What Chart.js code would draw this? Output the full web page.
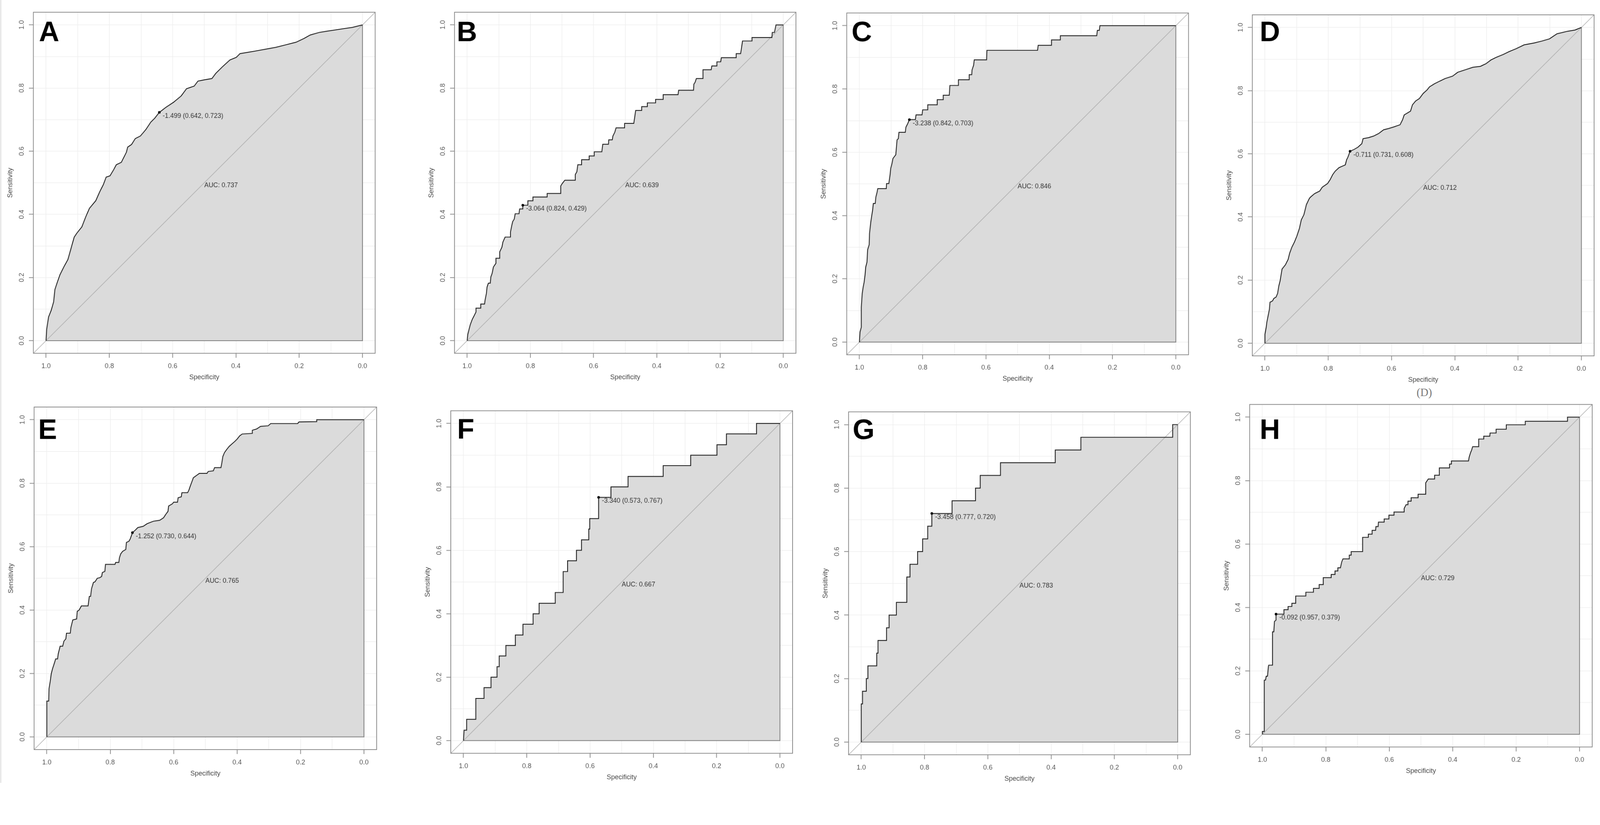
<!DOCTYPE html>
<html>
<head>
<meta charset="utf-8">
<script src="https://cdn.jsdelivr.net/npm/chart.js@4.4.1/dist/chart.umd.min.js"></script>
<style>
html, body { margin: 0; padding: 0; background: #fff; overflow: hidden; width: 100%; height: 100%; }
#stage { position: absolute; left: 0; top: 0; width: 4316px; height: 2112px; overflow: hidden; transform-origin: 0 0; background: #fff; }
.panel { position: absolute; }
.edge { position: absolute; left: 0; top: 0; width: 4px; height: 2112px; background: #e9e9e9; }
.caption { position: absolute; left: 3842px; top: 1058px; transform: translate(-50%, -50%);
  font: 30px 'Liberation Serif', 'Times New Roman', serif; color: #777; }
</style>
</head>
<body>
<div id="stage">
  <div class="edge"></div>
  <div class="caption">(D)</div>
</div>
<script>
// ROC curves as [specificity, sensitivity] points
const rocA = [[1.000,0.000],[0.998,0.036],[0.992,0.075],[0.984,0.095],[0.976,0.123],[0.972,0.162],[0.964,0.186],[0.956,0.209],[0.944,0.233],[0.931,0.257],[0.923,0.285],[0.911,0.328],[0.903,0.340],[0.887,0.360],[0.875,0.391],[0.863,0.419],[0.843,0.443],[0.831,0.470],[0.819,0.494],[0.810,0.518],[0.798,0.522],[0.786,0.542],[0.778,0.557],[0.762,0.565],[0.746,0.597],[0.742,0.613],[0.730,0.621],[0.718,0.640],[0.702,0.648],[0.685,0.668],[0.669,0.692],[0.657,0.704],[0.642,0.723],[0.621,0.739],[0.597,0.755],[0.573,0.775],[0.556,0.798],[0.532,0.806],[0.520,0.822],[0.500,0.826],[0.476,0.830],[0.464,0.846],[0.444,0.866],[0.419,0.889],[0.399,0.897],[0.387,0.909],[0.363,0.913],[0.339,0.917],[0.306,0.923],[0.274,0.929],[0.242,0.937],[0.210,0.945],[0.185,0.957],[0.165,0.968],[0.137,0.976],[0.113,0.980],[0.073,0.986],[0.032,0.992],[0.000,1.000]];

const rocB = [[1.000,0.000],[0.998,0.020],[0.994,0.036],[0.990,0.051],[0.984,0.067],[0.977,0.081],[0.972,0.091],[0.972,0.103],[0.957,0.103],[0.957,0.116],[0.945,0.116],[0.943,0.130],[0.939,0.150],[0.937,0.170],[0.933,0.182],[0.927,0.182],[0.925,0.202],[0.921,0.213],[0.917,0.233],[0.909,0.245],[0.909,0.261],[0.898,0.261],[0.897,0.281],[0.890,0.296],[0.887,0.312],[0.880,0.328],[0.864,0.328],[0.863,0.344],[0.859,0.364],[0.856,0.377],[0.851,0.385],[0.848,0.402],[0.836,0.402],[0.834,0.417],[0.824,0.417],[0.824,0.429],[0.808,0.429],[0.808,0.443],[0.792,0.443],[0.792,0.455],[0.747,0.455],[0.747,0.466],[0.704,0.466],[0.704,0.490],[0.699,0.498],[0.691,0.508],[0.658,0.508],[0.658,0.526],[0.653,0.535],[0.650,0.557],[0.638,0.557],[0.638,0.573],[0.614,0.573],[0.614,0.585],[0.598,0.585],[0.598,0.598],[0.574,0.598],[0.571,0.622],[0.553,0.622],[0.552,0.636],[0.541,0.636],[0.539,0.648],[0.533,0.660],[0.529,0.674],[0.502,0.674],[0.502,0.688],[0.473,0.688],[0.470,0.708],[0.467,0.729],[0.448,0.729],[0.448,0.741],[0.430,0.741],[0.430,0.753],[0.404,0.753],[0.404,0.764],[0.380,0.764],[0.380,0.779],[0.333,0.779],[0.331,0.793],[0.284,0.793],[0.283,0.812],[0.279,0.818],[0.275,0.830],[0.254,0.830],[0.254,0.858],[0.228,0.858],[0.226,0.870],[0.210,0.870],[0.210,0.883],[0.198,0.883],[0.196,0.896],[0.149,0.896],[0.149,0.909],[0.135,0.909],[0.133,0.921],[0.129,0.949],[0.099,0.949],[0.099,0.960],[0.036,0.960],[0.035,0.976],[0.028,0.976],[0.023,1.000],[0.000,1.000]];

const rocC = [[1.000,0.000],[0.998,0.032],[0.994,0.047],[0.994,0.110],[0.991,0.154],[0.988,0.174],[0.985,0.189],[0.982,0.213],[0.980,0.237],[0.976,0.253],[0.974,0.292],[0.969,0.308],[0.968,0.343],[0.964,0.379],[0.961,0.399],[0.958,0.418],[0.956,0.438],[0.950,0.438],[0.948,0.458],[0.944,0.474],[0.942,0.485],[0.915,0.485],[0.914,0.501],[0.907,0.501],[0.903,0.529],[0.901,0.549],[0.897,0.564],[0.894,0.580],[0.885,0.592],[0.883,0.616],[0.881,0.639],[0.877,0.643],[0.875,0.663],[0.855,0.663],[0.853,0.679],[0.847,0.691],[0.842,0.703],[0.823,0.703],[0.821,0.718],[0.802,0.718],[0.800,0.734],[0.784,0.734],[0.784,0.750],[0.754,0.750],[0.754,0.766],[0.735,0.766],[0.735,0.780],[0.716,0.780],[0.714,0.811],[0.687,0.811],[0.687,0.829],[0.653,0.829],[0.653,0.845],[0.645,0.845],[0.644,0.860],[0.639,0.875],[0.637,0.892],[0.598,0.892],[0.597,0.922],[0.437,0.922],[0.435,0.938],[0.393,0.938],[0.393,0.955],[0.365,0.955],[0.365,0.968],[0.250,0.968],[0.248,0.985],[0.242,0.985],[0.240,1.000],[0.000,1.000]];

const rocD = [[1.000,0.000],[1.000,0.028],[0.996,0.051],[0.994,0.067],[0.990,0.087],[0.986,0.107],[0.984,0.130],[0.976,0.134],[0.972,0.142],[0.965,0.146],[0.960,0.158],[0.956,0.182],[0.952,0.198],[0.949,0.217],[0.946,0.235],[0.935,0.249],[0.927,0.265],[0.922,0.285],[0.915,0.304],[0.907,0.320],[0.899,0.340],[0.891,0.364],[0.885,0.391],[0.877,0.407],[0.869,0.439],[0.860,0.458],[0.857,0.462],[0.843,0.474],[0.827,0.482],[0.819,0.494],[0.802,0.506],[0.794,0.518],[0.786,0.534],[0.778,0.545],[0.766,0.556],[0.746,0.565],[0.742,0.581],[0.738,0.589],[0.731,0.608],[0.718,0.614],[0.706,0.621],[0.694,0.632],[0.690,0.648],[0.673,0.651],[0.657,0.656],[0.641,0.664],[0.625,0.676],[0.609,0.680],[0.593,0.685],[0.573,0.692],[0.565,0.708],[0.560,0.723],[0.540,0.735],[0.534,0.755],[0.524,0.767],[0.512,0.775],[0.500,0.791],[0.488,0.802],[0.480,0.812],[0.464,0.822],[0.448,0.830],[0.431,0.838],[0.407,0.846],[0.391,0.858],[0.367,0.866],[0.343,0.874],[0.319,0.877],[0.302,0.885],[0.286,0.897],[0.270,0.905],[0.246,0.915],[0.230,0.923],[0.206,0.933],[0.181,0.945],[0.149,0.951],[0.125,0.957],[0.101,0.964],[0.077,0.980],[0.044,0.988],[0.020,0.992],[0.000,1.000]];

const rocE = [[1.000,0.000],[1.000,0.113],[0.994,0.113],[0.993,0.152],[0.989,0.176],[0.986,0.199],[0.982,0.215],[0.978,0.227],[0.972,0.246],[0.966,0.246],[0.964,0.262],[0.958,0.286],[0.950,0.286],[0.946,0.302],[0.940,0.309],[0.938,0.327],[0.926,0.327],[0.924,0.345],[0.918,0.369],[0.906,0.372],[0.904,0.396],[0.898,0.400],[0.891,0.413],[0.870,0.413],[0.866,0.443],[0.862,0.443],[0.859,0.467],[0.853,0.487],[0.848,0.489],[0.841,0.500],[0.833,0.502],[0.827,0.506],[0.825,0.518],[0.817,0.522],[0.815,0.544],[0.785,0.544],[0.783,0.550],[0.773,0.550],[0.771,0.565],[0.767,0.577],[0.761,0.585],[0.751,0.591],[0.749,0.613],[0.741,0.617],[0.737,0.624],[0.730,0.644],[0.721,0.652],[0.713,0.660],[0.696,0.664],[0.684,0.672],[0.664,0.680],[0.644,0.683],[0.632,0.691],[0.624,0.703],[0.618,0.711],[0.616,0.728],[0.604,0.735],[0.600,0.740],[0.588,0.740],[0.586,0.754],[0.576,0.757],[0.574,0.770],[0.556,0.770],[0.552,0.778],[0.548,0.790],[0.542,0.806],[0.538,0.817],[0.527,0.825],[0.519,0.831],[0.495,0.831],[0.491,0.837],[0.475,0.839],[0.471,0.849],[0.451,0.849],[0.448,0.865],[0.445,0.884],[0.440,0.896],[0.433,0.906],[0.425,0.916],[0.416,0.924],[0.408,0.931],[0.400,0.939],[0.392,0.949],[0.384,0.955],[0.352,0.957],[0.352,0.967],[0.338,0.971],[0.326,0.979],[0.302,0.981],[0.294,0.988],[0.209,0.988],[0.205,0.993],[0.149,0.994],[0.149,1.000],[0.000,1.000]];

const rocF = [[1.000,0.000],[0.998,0.033],[0.990,0.033],[0.990,0.067],[0.961,0.067],[0.961,0.133],[0.935,0.133],[0.935,0.167],[0.913,0.167],[0.913,0.200],[0.894,0.200],[0.894,0.233],[0.887,0.233],[0.887,0.267],[0.866,0.267],[0.866,0.300],[0.836,0.300],[0.836,0.333],[0.812,0.333],[0.812,0.367],[0.780,0.367],[0.780,0.400],[0.761,0.400],[0.761,0.433],[0.710,0.433],[0.710,0.467],[0.685,0.467],[0.685,0.533],[0.671,0.533],[0.671,0.567],[0.643,0.567],[0.643,0.600],[0.627,0.600],[0.627,0.633],[0.604,0.633],[0.604,0.667],[0.601,0.667],[0.601,0.700],[0.573,0.700],[0.573,0.767],[0.534,0.767],[0.534,0.800],[0.480,0.800],[0.480,0.833],[0.369,0.833],[0.369,0.867],[0.282,0.867],[0.282,0.900],[0.199,0.900],[0.199,0.933],[0.169,0.933],[0.169,0.967],[0.074,0.967],[0.074,1.000],[0.000,1.000]];

const rocG = [[1.000,0.000],[1.000,0.120],[0.996,0.120],[0.996,0.160],[0.984,0.160],[0.984,0.200],[0.979,0.200],[0.979,0.240],[0.951,0.240],[0.951,0.280],[0.947,0.280],[0.947,0.320],[0.920,0.320],[0.920,0.360],[0.912,0.360],[0.912,0.400],[0.889,0.400],[0.889,0.440],[0.856,0.440],[0.856,0.520],[0.846,0.520],[0.846,0.560],[0.822,0.560],[0.822,0.600],[0.806,0.600],[0.806,0.640],[0.790,0.640],[0.790,0.680],[0.777,0.680],[0.777,0.720],[0.713,0.720],[0.713,0.760],[0.639,0.760],[0.639,0.800],[0.624,0.800],[0.624,0.840],[0.560,0.840],[0.560,0.880],[0.387,0.880],[0.387,0.920],[0.306,0.920],[0.306,0.960],[0.016,0.960],[0.016,1.000],[0.000,1.000]];

const rocH = [[1.000,0.000],[1.000,0.009],[0.994,0.009],[0.994,0.171],[0.990,0.171],[0.988,0.183],[0.984,0.183],[0.981,0.214],[0.980,0.218],[0.968,0.218],[0.968,0.323],[0.964,0.323],[0.962,0.356],[0.957,0.360],[0.957,0.379],[0.932,0.379],[0.932,0.393],[0.919,0.393],[0.919,0.403],[0.907,0.403],[0.907,0.413],[0.895,0.413],[0.895,0.436],[0.863,0.436],[0.863,0.448],[0.839,0.448],[0.839,0.460],[0.821,0.460],[0.821,0.472],[0.808,0.472],[0.808,0.494],[0.783,0.494],[0.783,0.504],[0.771,0.504],[0.771,0.515],[0.762,0.515],[0.762,0.525],[0.754,0.525],[0.750,0.543],[0.746,0.553],[0.726,0.553],[0.726,0.565],[0.720,0.565],[0.720,0.576],[0.684,0.576],[0.684,0.621],[0.666,0.621],[0.666,0.631],[0.654,0.631],[0.654,0.643],[0.643,0.643],[0.642,0.655],[0.635,0.655],[0.634,0.669],[0.616,0.669],[0.616,0.679],[0.601,0.679],[0.601,0.691],[0.585,0.691],[0.585,0.701],[0.553,0.701],[0.553,0.712],[0.547,0.724],[0.541,0.724],[0.541,0.735],[0.531,0.735],[0.531,0.746],[0.509,0.746],[0.509,0.757],[0.485,0.757],[0.485,0.793],[0.477,0.805],[0.457,0.805],[0.457,0.817],[0.442,0.817],[0.442,0.840],[0.410,0.840],[0.410,0.852],[0.404,0.852],[0.404,0.862],[0.350,0.862],[0.348,0.874],[0.344,0.887],[0.340,0.897],[0.337,0.907],[0.318,0.907],[0.318,0.931],[0.302,0.931],[0.302,0.940],[0.283,0.940],[0.282,0.950],[0.263,0.950],[0.263,0.962],[0.231,0.962],[0.231,0.976],[0.171,0.976],[0.171,0.987],[0.038,0.987],[0.038,1.000],[0.000,1.000]];

// best threshold: [threshold, specificity, sensitivity]
const thrA = [-1.499, 0.642, 0.723];
const thrB = [-3.064, 0.824, 0.429];
const thrC = [-3.238, 0.842, 0.703];
const thrD = [-0.711, 0.731, 0.608];
const thrE = [-1.252, 0.730, 0.644];
const thrF = [-3.340, 0.573, 0.767];
const thrG = [-3.458, 0.777, 0.720];
const thrH = [-0.092, 0.957, 0.379];

const aucValues = [0.737, 0.639, 0.846, 0.712, 0.765, 0.667, 0.783, 0.729];
const panelLetters = ['A', 'B', 'C', 'D', 'E', 'F', 'G', 'H'];
const axisTicks = [0, 0.1, 0.2, 0.3, 0.4, 0.5, 0.6, 0.7, 0.8, 0.9, 1.0];

// plot boxes on the 4316x2112 stage: left, top, width, height; letter offset inside box
const boxes = [
  [90, 33, 922, 920], [1226, 33, 921, 920], [2284, 35, 922, 922], [3378, 40, 922, 920],
  [92, 1098, 924, 924], [1216, 1108, 922, 924], [2289, 1111, 922, 925], [3371, 1091, 924, 924]
];
const letterOffsets = [[15, 78], [6, 78], [13, 76], [20, 71], [11, 86], [17, 75], [11, 73], [27, 93]];

const rocs = [rocA, rocB, rocC, rocD, rocE, rocF, rocG, rocH];
const thrs = [thrA, thrB, thrC, thrD, thrE, thrF, thrG, thrH];

const Y_W = 76;   // y axis width
const X_H = 80;   // x axis height
const PAD = 30;

// fit the fixed-size stage into whatever the window really is
const stage = document.getElementById('stage');
const fit = Math.min(window.innerWidth / 4316, window.innerHeight / 2112);
if (Math.abs(fit - 1) > 0.002) stage.style.transform = 'scale(' + fit + ')';

Chart.defaults.font.family = "'Liberation Sans', Arial, sans-serif";

const isMajor = v => Math.round(v * 10) % 2 === 0;

const panelDecor = {
  id: 'panelDecor',
  afterDatasetsDraw(chart, args, o) {
    const { ctx, chartArea: a, scales: { x, y } } = chart;
    ctx.save();
    ctx.strokeStyle = '#8a8a8a';
    ctx.lineWidth = 2;
    ctx.strokeRect(a.left, a.top, a.right - a.left, a.bottom - a.top);

    ctx.fillStyle = '#333';
    ctx.font = "17.5px 'Liberation Sans', Arial, sans-serif";
    ctx.textAlign = 'left';
    ctx.textBaseline = 'middle';
    const t = o.thr;
    const label = t[0].toFixed(3) + ' (' + t[1].toFixed(3) + ', ' + t[2].toFixed(3) + ')';
    ctx.fillText(label, x.getPixelForValue(t[1]) + 9, y.getPixelForValue(t[2]) + 10);
    ctx.fillText('AUC: ' + o.auc.toFixed(3), x.getPixelForValue(0.5), y.getPixelForValue(0.5) + 7);

    ctx.fillStyle = '#000';
    ctx.font = "bold 76px 'Liberation Sans', Arial, sans-serif";
    ctx.textBaseline = 'alphabetic';
    ctx.fillText(o.letter, a.left + o.letterPos[0], a.top + o.letterPos[1]);
    ctx.restore();
  }
};

function axisOptions(isX) {
  return {
    type: 'linear',
    min: -0.04,
    max: 1.04,
    reverse: isX,
    afterBuildTicks: s => { s.ticks = axisTicks.map(v => ({ value: v })); },
    afterFit: s => { if (isX) s.height = X_H; else s.width = Y_W; },
    ticks: {
      autoSkip: false,
      font: { size: 18 },
      color: '#555',
      padding: isX ? 12 : 6.5,
      minRotation: isX ? 0 : 90,
      maxRotation: isX ? 0 : 90,
      crossAlign: isX ? 'near' : 'center',
      callback: v => (isMajor(v) ? v.toFixed(1) : '')
    },
    grid: {
      color: '#eeeeee',
      lineWidth: 1.5,
      tickLength: 12,
      tickWidth: 2,
      tickColor: c => (c.tick && isMajor(c.tick.value) ? '#8a8a8a' : 'rgba(0,0,0,0)')
    },
    border: { display: false },
    title: {
      display: true,
      text: isX ? 'Specificity' : 'Sensitivity',
      font: { size: 18 },
      color: '#444',
      padding: isX ? { top: 0, bottom: 4.2 } : { top: 3.2, bottom: 0 }
    }
  };
}

function drawPanel(i) {
  const b = boxes[i];
  const wrap = document.createElement('div');
  wrap.className = 'panel';
  wrap.style.left = (b[0] - Y_W) + 'px';
  wrap.style.top = (b[1] - PAD) + 'px';
  wrap.style.width = (b[2] + Y_W + PAD) + 'px';
  wrap.style.height = (b[3] + X_H + PAD) + 'px';
  const canvas = document.createElement('canvas');
  wrap.appendChild(canvas);
  stage.appendChild(wrap);

  const thr = thrs[i];
  new Chart(canvas, {
    type: 'line',
    data: {
      datasets: [
        {
          data: [{ x: thr[1], y: thr[2] }],
          showLine: false,
          pointRadius: 3.5,
          pointBackgroundColor: '#000',
          pointBorderWidth: 0,
          order: 0
        },
        {
          data: rocs[i].map(p => ({ x: p[0], y: p[1] })),
          borderColor: '#1a1a1a',
          borderWidth: 2.2,
          backgroundColor: '#dbdbdb',
          fill: 'origin',
          pointRadius: 0,
          tension: 0,
          order: 1
        },
        {
          data: [{ x: 1, y: 0 }, { x: 0, y: 0 }, { x: 0, y: 1 }],
          borderColor: '#7a7a7a',
          borderWidth: 2,
          pointRadius: 0,
          fill: false,
          order: 2
        },
        {
          data: [{ x: 1.04, y: -0.04 }, { x: -0.04, y: 1.04 }],
          borderColor: '#a8a8a8',
          borderWidth: 1.4,
          pointRadius: 0,
          fill: false,
          order: 3
        }
      ]
    },
    options: {
      responsive: true,
      maintainAspectRatio: false,
      animation: false,
      events: [],
      layout: { padding: { top: PAD, right: PAD, left: 0, bottom: 0 } },
      scales: { x: axisOptions(true), y: axisOptions(false) },
      plugins: {
        legend: { display: false },
        tooltip: { enabled: false },
        filler: { drawTime: 'beforeDatasetsDraw' },
        panelDecor: { thr: thr, auc: aucValues[i], letter: panelLetters[i], letterPos: letterOffsets[i] }
      }
    },
    plugins: [panelDecor]
  });
}

for (let i = 0; i < 8; i++) drawPanel(i);
</script>
</body>
</html>
